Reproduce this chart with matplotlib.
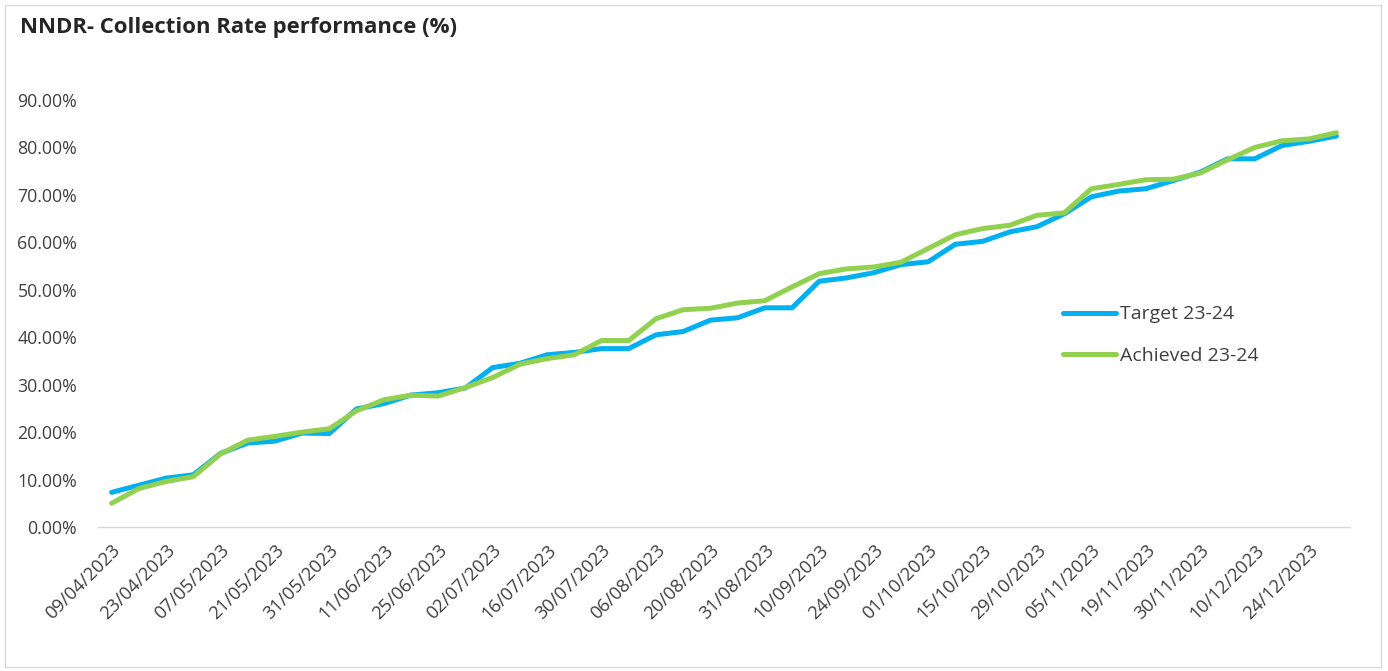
import matplotlib.pyplot as plt
from matplotlib.patches import Rectangle
from matplotlib.ticker import FuncFormatter

plt.rcParams['font.family'] = ['Open Sans', 'DejaVu Sans']

# week-ending dates (only every second one is labelled on the axis)
tick_labels = ['09/04/2023', '23/04/2023', '07/05/2023', '21/05/2023', '31/05/2023',
               '11/06/2023', '25/06/2023', '02/07/2023', '16/07/2023', '30/07/2023',
               '06/08/2023', '20/08/2023', '31/08/2023', '10/09/2023', '24/09/2023',
               '01/10/2023', '15/10/2023', '29/10/2023', '05/11/2023', '19/11/2023',
               '30/11/2023', '10/12/2023', '24/12/2023']

# collection rate (%), 46 weekly points
target = [7.3, 8.8, 10.3, 11.0, 15.5, 17.7, 18.1, 19.8, 19.7, 24.9,
          26.0, 27.8, 28.3, 29.3, 33.6, 34.5, 36.3, 36.8, 37.6, 37.6,
          40.5, 41.2, 43.6, 44.1, 46.2, 46.2, 51.8, 52.5, 53.6, 55.3,
          55.9, 59.6, 60.2, 62.2, 63.3, 66.0, 69.6, 70.8, 71.3, 73.0,
          74.8, 77.6, 77.6, 80.4, 81.3, 82.4]
achieved = [5.0, 8.1, 9.6, 10.6, 15.4, 18.3, 19.1, 20.0, 20.7, 24.5,
            26.8, 27.8, 27.6, 29.4, 31.5, 34.3, 35.5, 36.3, 39.3, 39.3,
            43.9, 45.8, 46.1, 47.2, 47.7, 50.6, 53.4, 54.4, 54.8, 55.8,
            58.7, 61.6, 62.9, 63.6, 65.7, 66.2, 71.3, 72.2, 73.2, 73.3,
            74.6, 77.4, 80.0, 81.4, 81.8, 83.1]

x = list(range(len(target)))

fig = plt.figure(figsize=(13.88, 6.71), dpi=100)
fig.patches.append(Rectangle((5 / 1388, 4 / 671), 1376 / 1388, 662 / 671,
                             transform=fig.transFigure, fill=False,
                             edgecolor='#D9D9D9', linewidth=1))

ax = fig.add_axes([98 / 1388, 1 - 527 / 671, 1252 / 1388, 427 / 671])
ax.plot(x, target, color='#00B0F0', linewidth=3.6, label='Target 23-24',
        solid_joinstyle='round', solid_capstyle='round')
ax.plot(x, achieved, color='#92D050', linewidth=3.6, label='Achieved 23-24',
        solid_joinstyle='round', solid_capstyle='round')

ax.set_xlim(-0.5, len(x) - 0.5)
ax.set_ylim(0, 90)
ax.set_yticks(range(0, 91, 10))
ax.yaxis.set_major_formatter(FuncFormatter(lambda v, p: f'{v:.2f}%'))
ax.set_xticks(x[::2])
ax.set_xticklabels(tick_labels, rotation=45, ha='right', va='top',
                   rotation_mode='anchor')
ax.tick_params(axis='both', length=0, labelcolor='#404040')
ax.tick_params(axis='y', pad=15, labelsize=12.8)
ax.tick_params(axis='x', pad=10, labelsize=13.2)

for side in ['top', 'right', 'left']:
    ax.spines[side].set_visible(False)
ax.spines['bottom'].set_color('#D9D9D9')
ax.spines['bottom'].set_linewidth(1)

leg = ax.legend(loc='upper left', bbox_to_anchor=(0.757, 0.56), frameon=False,
                fontsize=14, handlelength=2.7, handletextpad=0.2,
                labelspacing=1.2)
for t in leg.get_texts():
    t.set_color('#404040')

fig.text(20 / 1388, 1 - 28 / 671, 'NNDR- Collection Rate performance (%)',
         fontsize=15.9, fontweight='bold', color='#262626', va='center')

fig.savefig('out.png', dpi=100)
